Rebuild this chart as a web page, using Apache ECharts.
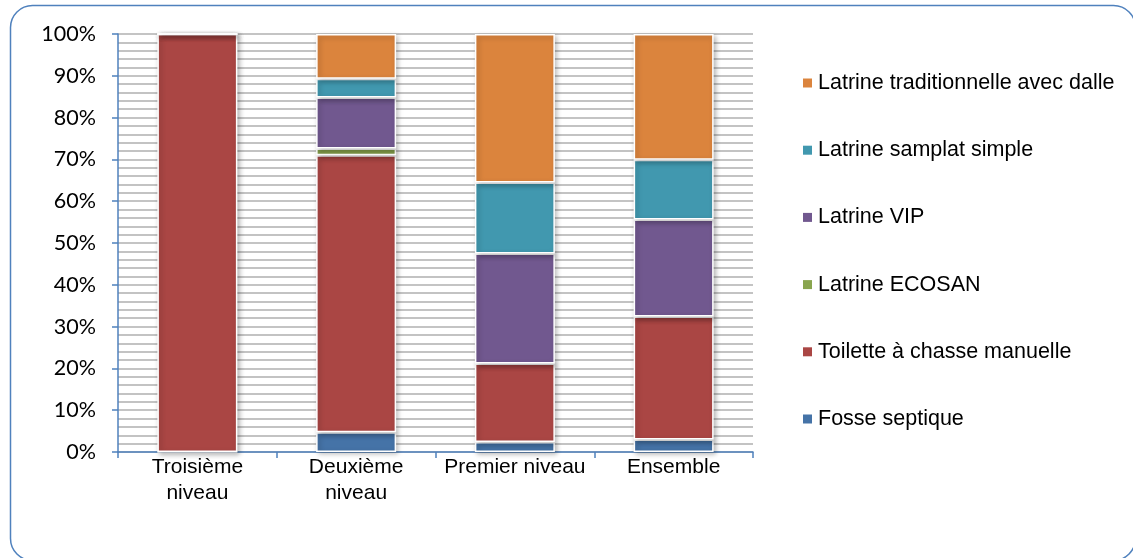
<!DOCTYPE html>
<html>
<head>
<meta charset="utf-8">
<script src="https://cdn.jsdelivr.net/npm/echarts@6/dist/echarts.min.js"></script>
<style>
  html, body { margin: 0; padding: 0; background: #ffffff; }
  #chart { width: 1133px; height: 558px; }
</style>
</head>
<body>
<div id="chart"></div>
<script>
// Niveaux de vie (catégories de l'axe horizontal)
var categories = ['Troisième\nniveau', 'Deuxième\nniveau', 'Premier niveau', 'Ensemble'];

// Répartition (%) des types d'installation par niveau
var fosseSeptique   = [0, 4.7, 2.4, 3.0];
var toiletteChasse  = [100, 66.3, 18.8, 29.4];
var latrineEcosan   = [0, 1.6, 0, 0];
var latrineVip      = [0, 12.2, 26.3, 23.2];
var latrineSamplat  = [0, 4.5, 17.0, 14.3];
var latrineTrad     = [0, 10.7, 35.5, 30.1];

var seriesNames = [
  'Fosse septique',
  'Toilette à chasse manuelle',
  'Latrine ECOSAN',
  'Latrine VIP',
  'Latrine samplat simple',
  'Latrine traditionnelle avec dalle'
];
var seriesValues = [fosseSeptique, toiletteChasse, latrineEcosan, latrineVip, latrineSamplat, latrineTrad];
var seriesColors = ['#4573a7', '#aa4644', '#89a54e', '#71588f', '#4198af', '#db843d'];

var yTicks = [0, 10, 20, 30, 40, 50, 60, 70, 80, 90, 100];

var axisBlue = '#4f81bd';
var gridGray = '#b0b0b0';
var textFont = '"Liberation Sans Narrow", "Liberation Sans", Arial, sans-serif';

var chart = echarts.init(document.getElementById('chart'));

var series = seriesNames.map(function (name, i) {
  return {
    name: name,
    type: 'bar',
    stack: 'total',
    barWidth: 80,
    data: seriesValues[i],
    itemStyle: {
      color: seriesColors[i],
      borderColor: '#ffffff',
      borderWidth: 1.5,
      shadowColor: 'rgba(0,0,0,0.28)',
      shadowBlur: 5,
      shadowOffsetX: 2,
      shadowOffsetY: 2
    }
  };
});

chart.setOption({
  animation: false,
  backgroundColor: '#ffffff',
  graphic: [{
    type: 'rect',
    shape: { x: 10.5, y: 5.5, width: 1125, height: 555, r: 22 },
    style: { fill: 'none', stroke: axisBlue, lineWidth: 1.5 },
    silent: true,
    z: 0
  }],
  grid: { left: 118, top: 34, right: 380, bottom: 106 },
  legend: {
    orient: 'vertical',
    left: 798,
    top: 67,
    itemWidth: 9,
    itemHeight: 9,
    itemGap: 45.2,
    icon: 'rect',
    data: seriesNames.slice().reverse(),
    itemStyle: { borderWidth: 0, shadowBlur: 0, shadowOffsetX: 0, shadowOffsetY: 0 },
    textStyle: {
      fontFamily: textFont,
      fontSize: 21.5,
      color: '#000000',
      lineHeight: 21,
      padding: [0, 0, 0, 1]
    }
  },
  xAxis: {
    type: 'category',
    data: categories,
    axisLine: { lineStyle: { color: axisBlue, width: 1.5 } },
    axisTick: { show: true, alignWithLabel: false, length: 6, lineStyle: { color: axisBlue, width: 1.5 } },
    axisLabel: {
      interval: 0,
      margin: 2,
      fontFamily: textFont,
      fontSize: 21,
      lineHeight: 26,
      color: '#000000'
    }
  },
  yAxis: {
    type: 'value',
    min: yTicks[0],
    max: yTicks[yTicks.length - 1],
    interval: 10,
    axisLine: { show: true, lineStyle: { color: axisBlue, width: 1.5 } },
    axisTick: { show: true, length: 6, lineStyle: { color: axisBlue, width: 1.5 } },
    axisLabel: {
      margin: 22,
      formatter: '{value}%',
      fontFamily: 'Lato, "Open Sans", sans-serif',
      fontSize: 21.5,
      color: '#000000'
    },
    splitLine: { show: true, lineStyle: { color: gridGray, width: 1.5 } },
    minorTick: { show: false, splitNumber: 5 },
    minorSplitLine: { show: true, lineStyle: { color: gridGray, width: 1.5 } }
  },
  series: series
});
</script>
</body>
</html>
